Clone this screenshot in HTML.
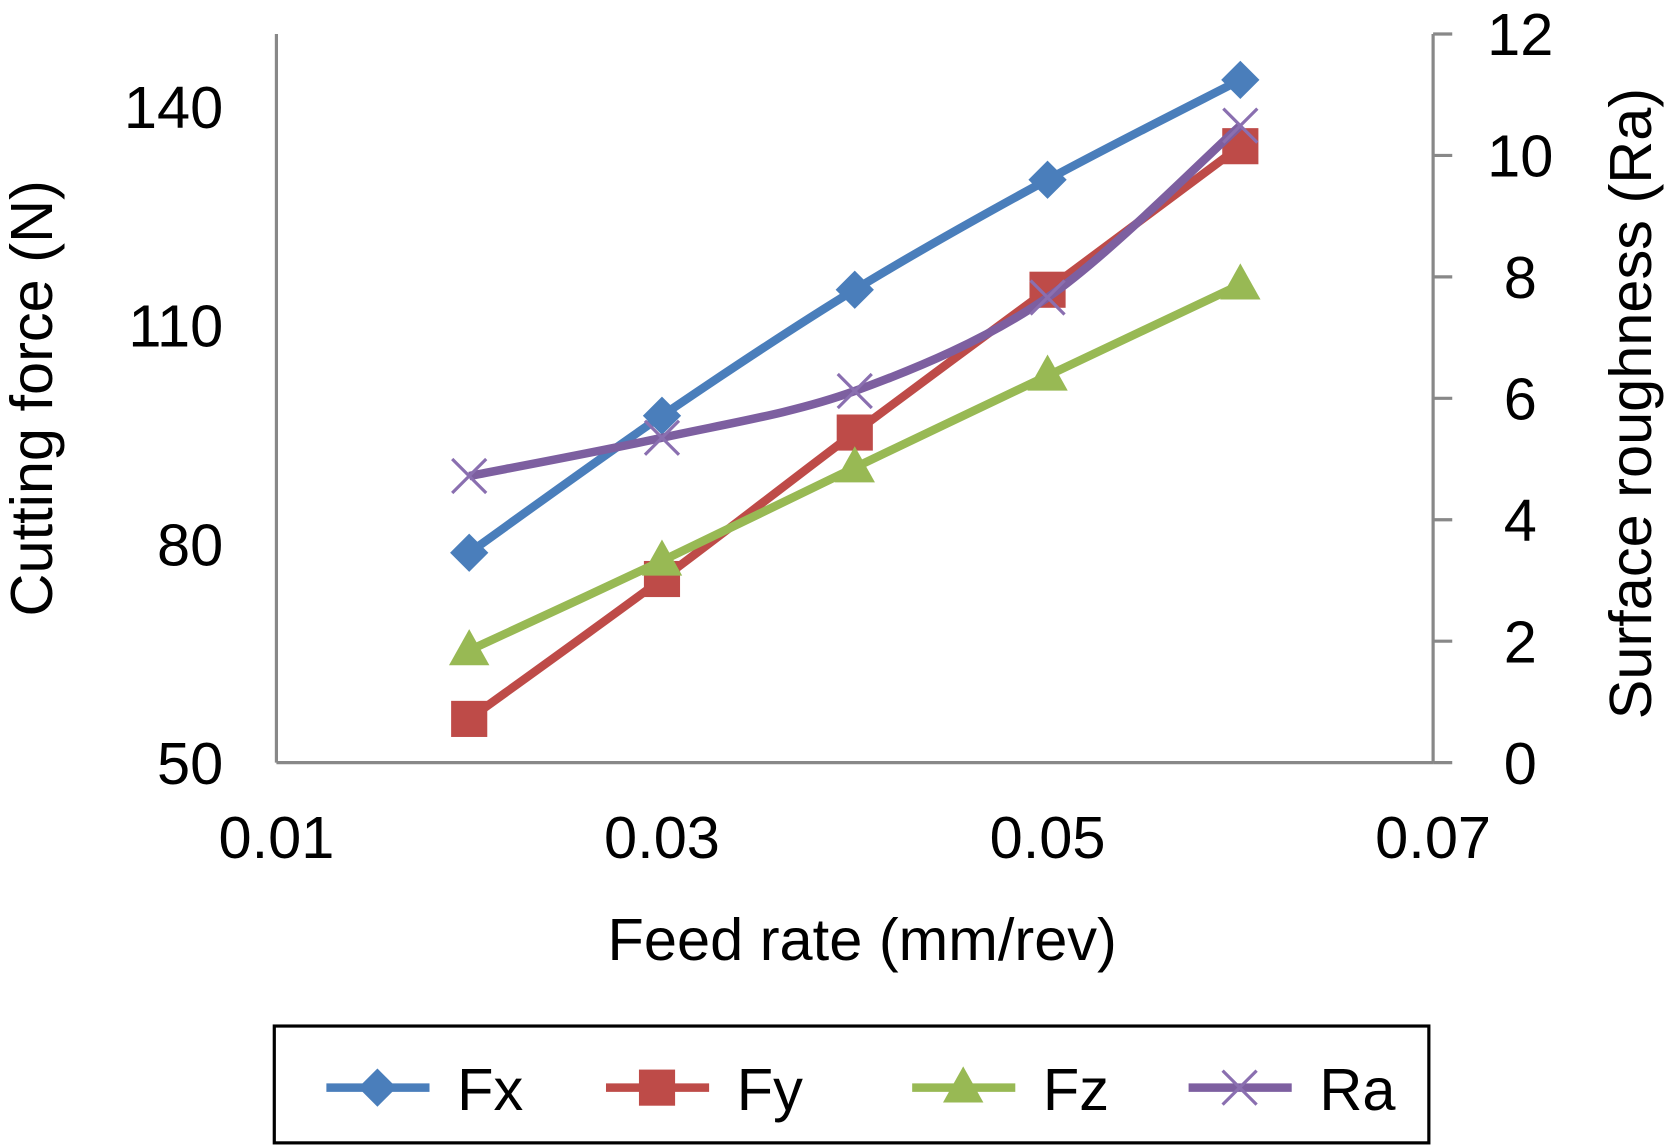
<!DOCTYPE html>
<html><head><meta charset="utf-8"><style>
html,body{margin:0;padding:0;background:#fff;}
svg{display:block;font-family:"Liberation Sans",Arial,sans-serif;}
</style></head><body>
<svg id="chart" width="1667" height="1145" viewBox="0 0 1568 1078" preserveAspectRatio="none" xmlns="http://www.w3.org/2000/svg">
<g id="axes"></g>
<g id="series"></g>
<text transform="translate(49,375) rotate(-90)" text-anchor="middle" font-size="56">Cutting force (N)</text>
<text transform="translate(1553,380) rotate(-90)" text-anchor="middle" font-size="56">Surface roughness (Ra)</text>
<text x="811" y="904" text-anchor="middle" font-size="56">Feed rate (mm/rev)</text>
<rect x="258" y="966" width="1086" height="110" fill="#fff" stroke="#000" stroke-width="3"/>
<g id="legend"></g>
</svg>
<script>
const xCats=[0.02,0.03,0.04,0.05,0.06];
const fx=[78.8,97.6,114.9,130,143.7];
const fy=[56,75.2,95.3,114.9,134.6];
const fz=[65.4,77.7,90.5,103.1,115.6];
const ra=[4.72,5.35,6.12,7.66,10.49];
const xTicks=[0.01,0.03,0.05,0.07];
const xTickLabels=["0.01","0.03","0.05","0.07"];
const yTicks=[50,80,110,140];
const y2Ticks=[0,2,4,6,8,10,12];

const L=260,R=1348,T=32,B=718;
const xs=v=>L+(v-0.01)/0.06*(R-L);
const ys=v=>B-(v-50)/100*(B-T);
const y2s=v=>B-v/12*(B-T);
const NS="http://www.w3.org/2000/svg";
function mk(tag,attrs,parent){const e=document.createElementNS(NS,tag);for(const k in attrs)e.setAttribute(k,attrs[k]);parent.appendChild(e);return e;}
const axes=document.getElementById('axes');
let e;
e=mk('line',{x1:L,y1:T,x2:L,y2:B,stroke:'#888','stroke-width':3},axes);


e=mk('line',{x1:L,y1:B,x2:R,y2:B,stroke:'#888','stroke-width':3},axes);


e=mk('line',{x1:R,y1:T,x2:R,y2:B,stroke:'#888','stroke-width':3},axes);


yTicks.forEach(v=>{
 e=mk('text',{x:210,y:ys(v)+20,'text-anchor':'end','font-size':56},axes);e.textContent=v;
 
 
});
y2Ticks.forEach(v=>{
 e=mk('line',{x1:R,y1:y2s(v),x2:R+18,y2:y2s(v),stroke:'#888','stroke-width':3},axes);
 
 
 e=mk('text',{x:1430,y:y2s(v)+20,'text-anchor':'middle','font-size':56},axes);e.textContent=v;
 
 
});
xTicks.forEach((v,i)=>{
 e=mk('text',{x:xs(v),y:808,'text-anchor':'middle','font-size':56},axes);e.textContent=xTickLabels[i];
 
 
});
function smooth(pts){let d=`M${pts[0][0]},${pts[0][1]}`;for(let i=0;i<pts.length-1;i++){const p0=pts[i-1]||pts[i],p1=pts[i],p2=pts[i+1],p3=pts[i+2]||p2;const t=0.16;d+=` C${p1[0]+(p2[0]-p0[0])*t},${p1[1]+(p2[1]-p0[1])*t} ${p2[0]-(p3[0]-p1[0])*t},${p2[1]-(p3[1]-p1[1])*t} ${p2[0]},${p2[1]}`;}return d;}
function marker(type,x,y,color,g){
 if(type==='diamond')return mk('polygon',{points:`${x},${y-18} ${x+18},${y} ${x},${y+18} ${x-18},${y}`,fill:color},g);
 if(type==='square')return mk('rect',{x:x-17,y:y-17,width:34,height:34,fill:color},g);
 if(type==='triangle')return mk('polygon',{points:`${x},${y-20} ${x+19},${y+14} ${x-19},${y+14}`,fill:color},g);
 const p=mk('path',{d:`M${x-16},${y-16}L${x+16},${y+16}M${x+16},${y-16}L${x-16},${y+16}`,stroke:color,'stroke-width':3,fill:'none'},g);return p;
}
const seriesDefs=[["Fx",fx,'#4a7ebb','diamond',ys],["Fy",fy,'#be4b48','square',ys],["Fz",fz,'#98b954','triangle',ys],["Ra",ra,'#7d5fa0','x',y2s]];
const sg=document.getElementById('series');
seriesDefs.forEach(([name,vals,col,mt,sc])=>{
 const g=mk('g',{},sg);
 
 
 const pts=vals.map((v,i)=>[xs(xCats[i]),sc(v)]);
 const p=mk('path',{d:smooth(pts),stroke:col,'stroke-width':8,fill:'none','stroke-linejoin':'round'},g);
 
 
 pts.forEach(([x,y])=>{const m=marker(mt,x,y,mt==='x'?'#8a6fb0':col,g);
  
  });
});
const lg=document.getElementById('legend');
const lx=[307,570,858,1118];
seriesDefs.forEach(([name,vals,col,mt],i)=>{
 const g=mk('g',{},lg);
 
 
 mk('line',{x1:lx[i],y1:1024,x2:lx[i]+97,y2:1024,stroke:col,'stroke-width':8},g);
 marker(mt,lx[i]+48,1024,mt==='x'?'#8a6fb0':col,g);
 const t=mk('text',{x:lx[i]+123,y:1045,'font-size':56},g);t.textContent=name;
});
</script>
</body></html>
